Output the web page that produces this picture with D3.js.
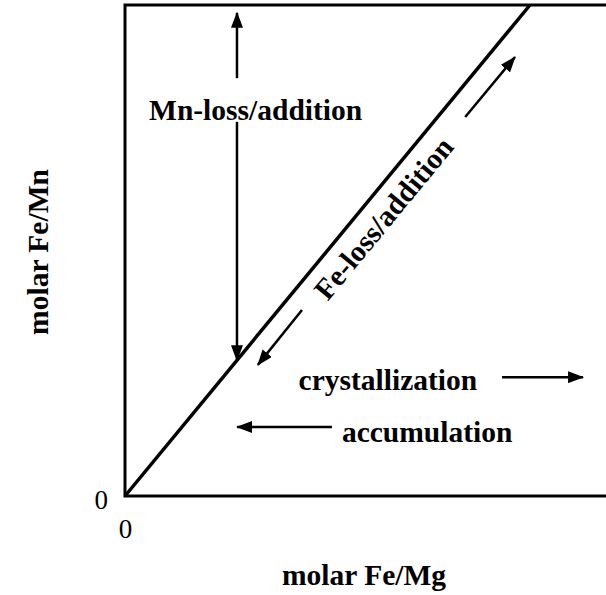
<!DOCTYPE html>
<html>
<head>
<meta charset="utf-8">
<script src="https://cdn.jsdelivr.net/npm/d3@7"></script>
<style>
  html, body { margin: 0; padding: 0; background: #fff; }
  svg { display: block; }
  .lbl { font-family: "Liberation Serif", "Times New Roman", serif; font-weight: bold; font-size: 29.5px; fill: #000; }
  .tick text { font-family: "Liberation Serif", "Times New Roman", serif; font-size: 27px; fill: #000; }
</style>
</head>
<body>
<div id="chart"></div>
<script>
// Schematic: molar Fe/Mg vs molar Fe/Mn (unitless, 0..1 = diagonal top)
const xTicks = [0];
const yTicks = [0];
const xTitle = "molar Fe/Mg";
const yTitle = "molar Fe/Mn";

// the 1:1 trend line
const trendLine = [[0, 0], [1, 1]];

// arrows: [x0, y0] -> [x1, y1] (tip at x1, y1)
const arrows = [
    {name: "mn-up",    from: [0.2765, 0.851], to: [0.2765, 0.984]},
    {name: "mn-down",  from: [0.2765, 0.762], to: [0.2765, 0.2765]},
    {name: "fe-up",    from: [0.840, 0.772],  to: [0.963, 0.894]},
    {name: "fe-down",  from: [0.437, 0.379],  to: [0.328, 0.267]},
    {name: "cryst",    from: [0.931, 0.242],  to: [1.131, 0.242]},
    {name: "accum",    from: [0.511, 0.1405], to: [0.277, 0.1405]}
];

// text annotations, anchored at centre
const notes = [
    {text: "Mn-loss/addition", at: [0.3225, 0.787], rotate: false},
    {text: "Fe-loss/addition", at: [0.638, 0.566], rotate: true},
    {text: "crystallization",  at: [0.649, 0.236], rotate: false},
    {text: "accumulation",     at: [0.746, 0.130], rotate: false}
];

const W = 606, H = 595;
const plot = {left: 125, top: 5, bottom: 496, diagRight: 530, right: 606};

const x = d3.scaleLinear().domain([0, 1]).range([plot.left, plot.diagRight]);
const y = d3.scaleLinear().domain([0, 1]).range([plot.bottom, plot.top]);
const xMax = x.invert(plot.right);

const svg = d3.select("#chart").append("svg")
    .attr("width", W)
    .attr("height", H);

svg.append("defs").append("marker")
    .attr("id", "head")
    .attr("markerUnits", "userSpaceOnUse")
    .attr("viewBox", "0 0 16 12")
    .attr("refX", 15)
    .attr("refY", 6)
    .attr("markerWidth", 16)
    .attr("markerHeight", 12)
    .attr("orient", "auto")
    .append("path")
    .attr("d", "M0,0 L16,6 L0,12 Z")
    .attr("fill", "#000");

// frame: top, left and bottom edges (right side is open / cut off)
svg.append("path")
    .attr("d", d3.line()([
        [x(xMax), y(1)], [x(0), y(1)], [x(0), y(0)], [x(xMax), y(0)]
    ]))
    .attr("fill", "none")
    .attr("stroke", "#000")
    .attr("stroke-width", 3);

// axes, only the 0 labels
svg.append("g")
    .attr("transform", `translate(0,${plot.bottom})`)
    .call(d3.axisBottom(x).tickValues(xTicks).tickSize(0).tickPadding(23).tickFormat(d3.format("d")))
    .call(g => g.select(".domain").remove());

svg.append("g")
    .attr("transform", `translate(${plot.left},0)`)
    .call(d3.axisLeft(y).tickValues(yTicks).tickSize(0).tickPadding(17).tickFormat(d3.format("d")))
    .call(g => g.select(".domain").remove())
    .selectAll("text").attr("dy", "0.45em");

// trend line
svg.append("path")
    .datum(trendLine)
    .attr("d", d3.line().x(d => x(d[0])).y(d => y(d[1])))
    .attr("fill", "none")
    .attr("stroke", "#000")
    .attr("stroke-width", 3.5);

// arrows
svg.selectAll(".arrow")
    .data(arrows)
    .enter()
    .append("line")
    .attr("class", "arrow")
    .attr("x1", d => x(d.from[0]))
    .attr("y1", d => y(d.from[1]))
    .attr("x2", d => x(d.to[0]))
    .attr("y2", d => y(d.to[1]))
    .attr("stroke", "#000")
    .attr("stroke-width", 2.5)
    .attr("marker-end", "url(#head)");

const angle = -Math.atan2(y(0) - y(1), x(1) - x(0)) * 180 / Math.PI;

svg.selectAll(".note")
    .data(notes)
    .enter()
    .append("text")
    .attr("class", "lbl note")
    .attr("text-anchor", "middle")
    .attr("dy", "0.35em")
    .attr("transform", d => `translate(${x(d.at[0])},${y(d.at[1])})` + (d.rotate ? ` rotate(${angle})` : ""))
    .text(d => d.text);

// axis titles
svg.append("text")
    .attr("class", "lbl")
    .attr("text-anchor", "middle")
    .attr("x", 364)
    .attr("y", 585)
    .text(xTitle);

svg.append("text")
    .attr("class", "lbl")
    .attr("text-anchor", "middle")
    .attr("transform", "translate(38,252) rotate(-90)")
    .attr("dy", "0.35em")
    .text(yTitle);
</script>
</body>
</html>
